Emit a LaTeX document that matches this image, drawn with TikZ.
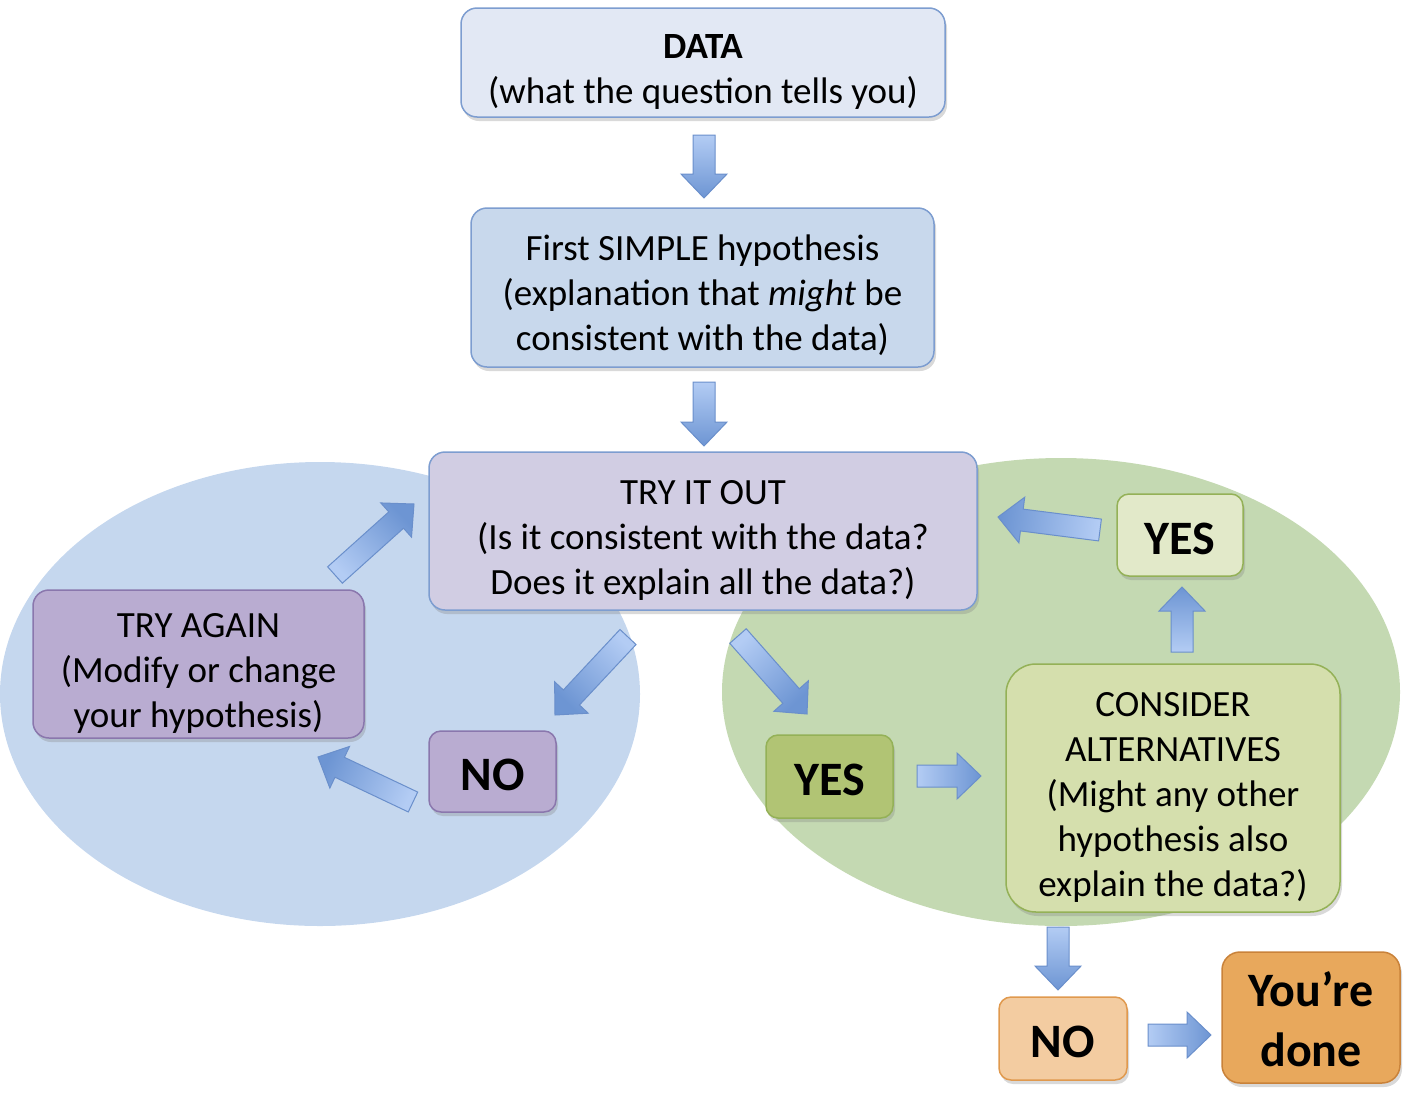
\documentclass[tikz,border=0pt]{standalone}
\usepackage{fontspec}
\setmainfont{Carlito}
\usetikzlibrary{calc,shadows}
\definecolor{ellblue}{HTML}{C5D7EE}
\definecolor{ellgreen}{HTML}{C4D9B2}
\definecolor{datafill}{HTML}{E2E8F4}
\definecolor{hypfill}{HTML}{C8D8EC}
\definecolor{blueedge}{HTML}{7D9DD0}
\definecolor{tryfill}{HTML}{D1CDE3}
\definecolor{purpfill}{HTML}{B9ACD1}
\definecolor{purpedge}{HTML}{8A77AD}
\definecolor{yesgfill}{HTML}{B1C474}
\definecolor{greenedge}{HTML}{94B157}
\definecolor{yeslfill}{HTML}{E2E9C9}
\definecolor{consfill}{HTML}{D5DFAD}
\definecolor{orlfill}{HTML}{F3CCA1}
\definecolor{oredge}{HTML}{E0994E}
\definecolor{orfill}{HTML}{E8A85C}
\definecolor{oredgedark}{HTML}{C9823A}
\definecolor{arrowlight}{HTML}{B3CCF4}
\definecolor{arrowdark}{HTML}{6D95D3}
\definecolor{arrowedge}{HTML}{6A8FCB}
\newcommand\topstrut{\rule{0pt}{42pt}}
\newcommand\bigstrut{\rule{0pt}{39pt}}
\tikzset{
  box/.style={rounded corners=16pt, line width=1.5pt, align=center, inner sep=0pt,
    font=\fontsize{37}{45}\selectfont,
    drop shadow={opacity=0.3, shadow xshift=2pt, shadow yshift=-4pt}},
  bigbox/.style={box, rounded corners=12pt, font=\fontsize{48}{60}\selectfont\bfseries},
  blockarrow/.style={draw=arrowedge, line width=1pt, top color=arrowlight, bottom color=arrowdark},
}
\newcommand\barrow[3]{%
  \coordinate (bh) at ($(#2)!24pt!(#1)$);
  \path[blockarrow, shading angle=#3]
    ($(#1)!11pt!-90:(#2)$) -- ($(bh)!11pt!-90:(#2)$) -- ($(bh)!23pt!-90:(#2)$) -- (#2)
    -- ($(bh)!23pt!90:(#2)$) -- ($(bh)!11pt!90:(#2)$) -- ($(#1)!11pt!90:(#2)$) -- cycle;}
\begin{document}
\begin{tikzpicture}[x=1pt,y=-1pt]
\useasboundingbox (0,0) rectangle (1411,1098);
% background ellipses
\fill[ellblue] (320,694) ellipse [x radius=320, y radius=232];
\fill[ellgreen] (1061,692) ellipse [x radius=339, y radius=234];
% boxes
\node[box, fill=datafill, draw=blueedge, minimum width=484pt, minimum height=109pt] (data) at (703,62.5)
  {\topstrut\textbf{DATA}\\(what the question tells you)};
\node[box, fill=hypfill, draw=blueedge, minimum width=463pt, minimum height=159pt] (hyp) at (702.5,287.5)
  {\topstrut First SIMPLE hypothesis\\(explanation that \textit{might} be\\consistent with the data)};
\node[box, fill=tryfill, draw=blueedge, minimum width=548pt, minimum height=158pt] (try) at (703,531)
  {\topstrut TRY IT OUT\\(Is it consistent with the data?\\Does it explain all the data?)};
\node[box, fill=purpfill, draw=purpedge, minimum width=331pt, minimum height=148pt] (again) at (198.5,664)
  {\topstrut TRY AGAIN\\(Modify or change\\your hypothesis)};
\node[bigbox, fill=purpfill, draw=purpedge, minimum width=127pt, minimum height=81pt] (no1) at (492.5,771.5) {\bigstrut NO};
\node[bigbox, fill=yesgfill, draw=greenedge, minimum width=127pt, minimum height=83pt] (yes1) at (829.5,776.5) {\bigstrut YES};
\node[bigbox, fill=yeslfill, draw=greenedge, minimum width=126pt, minimum height=82pt] (yes2) at (1180,535) {\bigstrut YES};
\node[box, rounded corners=30pt, fill=consfill, draw=greenedge, minimum width=334pt, minimum height=248pt] (cons) at (1173,788)
  {\topstrut CONSIDER\\ALTERNATIVES\\(Might any other\\hypothesis also\\explain the data?)};
\node[bigbox, fill=orlfill, draw=oredge, minimum width=128pt, minimum height=83pt] (no2) at (1063,1038.5) {\bigstrut NO};
\node[bigbox, rounded corners=18pt, fill=orfill, draw=oredgedark, minimum width=178pt, minimum height=131pt] (done) at (1311,1017.5)
  {\bigstrut You’re\\done};
% arrow end points
\coordinate (a1s) at (704,135);  \coordinate (a1e) at (704,198);
\coordinate (a2s) at (704,382);  \coordinate (a2e) at (704,446);
\coordinate (a3s) at (335,575);  \coordinate (a3e) at (414,504);
\coordinate (a4s) at (628,637);  \coordinate (a4e) at (555,715);
\coordinate (a5s) at (413,802);  \coordinate (a5e) at (318,757);
\coordinate (a6s) at (738,636);  \coordinate (a6e) at (807,714);
\coordinate (a7s) at (917,776);  \coordinate (a7e) at (981,776);
\coordinate (a8s) at (1182,652); \coordinate (a8e) at (1182,587);
\coordinate (a9s) at (1100,530); \coordinate (a9e) at (998,517);
\coordinate (a10s) at (1058,927); \coordinate (a10e) at (1058,990);
\coordinate (a11s) at (1148,1035); \coordinate (a11e) at (1211,1035);
\barrow{a1s}{a1e}{0}
\barrow{a2s}{a2e}{0}
\barrow{a3s}{a3e}{134}
\barrow{a4s}{a4e}{-44}
\barrow{a5s}{a5e}{245}
\barrow{a6s}{a6e}{44}
\barrow{a7s}{a7e}{90}
\barrow{a8s}{a8e}{180}
\barrow{a9s}{a9e}{263}
\barrow{a10s}{a10e}{0}
\barrow{a11s}{a11e}{90}
\end{tikzpicture}
\end{document}
